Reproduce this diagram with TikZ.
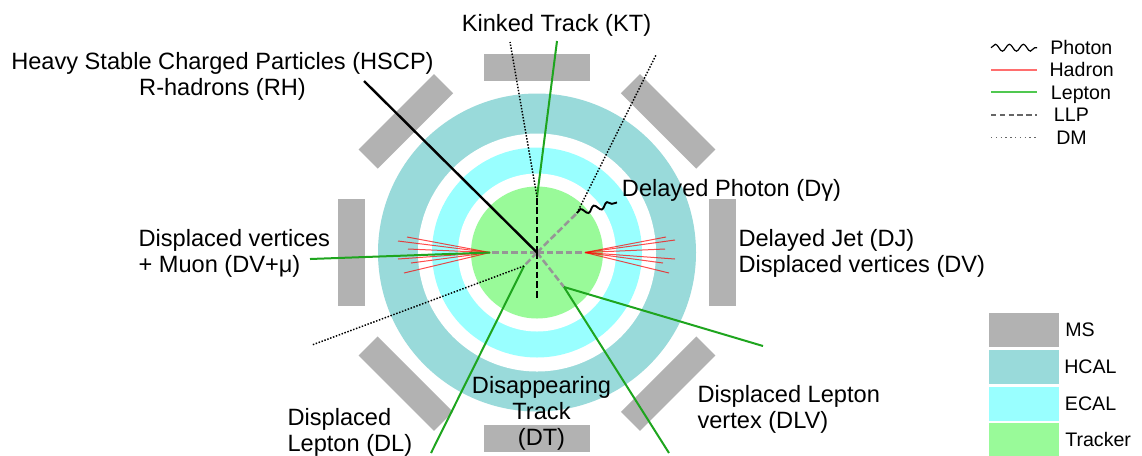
\documentclass[tikz,border=0pt]{standalone}
\usepackage{fontspec}
\setmainfont{Liberation Sans}
\usetikzlibrary{decorations.pathmorphing}
\definecolor{hcal}{RGB}{153,218,218}
\definecolor{ecal}{RGB}{153,255,255}
\definecolor{trk}{RGB}{153,250,153}
\definecolor{ms}{RGB}{178,178,178}
\definecolor{lep}{RGB}{30,165,30}
\definecolor{llp}{RGB}{150,150,150}
\definecolor{leglep}{RGB}{80,200,80}
\definecolor{leghad}{RGB}{255,110,110}
\newcommand\mlines[2]{\begin{tabular}[t]{@{}#1@{}}#2\end{tabular}}
\begin{document}
\begin{tikzpicture}[x=0.75pt,y=-0.75pt,
  lbl/.style={inner sep=0pt, font=\fontsize{17.7pt}{19.5pt}\selectfont},
  leg/.style={inner sep=0pt, font=\fontsize{14.7pt}{17pt}\selectfont},
  lepton/.style={draw=lep, line width=1.5pt},
  hadron/.style={draw=red, opacity=0.7, line width=0.75pt},
  llpline/.style={draw=llp, line width=1.9pt, dash pattern=on 5pt off 2.2pt},
  chargedllp/.style={draw=black, line width=2.1pt, dash pattern=on 5pt off 2.2pt},
  hscpline/.style={draw=black, line width=1.8pt},
  dmline/.style={draw=black, line width=1.1pt, dash pattern=on 1.1pt off 1.2pt},
  photonline/.style={draw=black, line width=1.4pt, decorate,
    decoration={snake, amplitude=2.2pt, segment length=10.3pt}},
  legbox/.style={inner sep=0pt}
]
\useasboundingbox (0,0) rectangle (1142,455);
\fill[white] (0,0) rectangle (1142,455);

% detector rings
\coordinate (C) at (537,252.5);
\fill[hcal] (C) circle[radius=119.25pt];
\fill[white] (C) circle[radius=89.25pt];
\fill[ecal] (C) circle[radius=78.75pt];
\fill[white] (C) circle[radius=59.25pt];
\fill[trk] (C) circle[radius=49.5pt];

% muon system blocks
\foreach \a in {0,45,...,315}
  \fill[ms, shift={(537,252.5)}, rotate=\a] (172,-53.3) rectangle (199,53.3);

% points
\coordinate (hscpE) at (364,81);
\coordinate (kink) at (537,197);
\coordinate (ktE) at (557,41);
\coordinate (ktDM) at (510,42);
\coordinate (dtE) at (537,298);
\coordinate (phV) at (577,213);
\coordinate (phE) at (617,202.5);
\coordinate (phDM) at (656,55);
\coordinate (djR) at (585,252.5);
\coordinate (djL) at (490,252.5);
\coordinate (muE) at (310,259);
\coordinate (dlV) at (524,266);
\coordinate (dlE) at (431,453);
\coordinate (dlDM) at (312,345);
\coordinate (dlvV) at (564,287);
\coordinate (dlvE1) at (763,346);
\coordinate (dlvE2) at (669,453);

% hadron jets
\foreach \p in {(666,237),(675,240),(665,249),(675,259),(663,263),(669,273)}
  \draw[hadron] (djR) -- \p;
\foreach \p in {(407,237),(398,241),(408,249),(398,259),(411,263),(404,273)}
  \draw[hadron] (djL) -- \p;

% LLPs (neutral)
\draw[llpline] (C) -- (djR);
\draw[llpline] (C) -- (djL);
\draw[llpline] (C) -- (phV);
\draw[llpline] (C) -- (dlV);
\draw[llpline] (C) -- (dlvV);

% charged LLPs
\draw[chargedllp] (C) -- (kink);
\draw[chargedllp] (C) -- (dtE);
\draw[hscpline] (C) -- (hscpE);

% leptons
\draw[lepton] (kink) -- (ktE);
\draw[lepton] (djL) -- (muE);
\draw[lepton] (dlV) -- (dlE);
\draw[lepton] (dlvV) -- (dlvE1);
\draw[lepton] (dlvV) -- (dlvE2);

% dark matter
\draw[dmline] (kink) -- (ktDM);
\draw[dmline] (phV) -- (phDM);
\draw[dmline] (dlV) -- (dlDM);

% photon
\draw[photonline] (phV) -- (phE);

% labels
\node[lbl, anchor=base] (hscp) at (222.5,69.5) {\mlines{c}{Heavy Stable Charged Particles (HSCP)\\R-hadrons (RH)}};
\node[lbl, anchor=base] (kt) at (556.5,31) {Kinked Track (KT)};
\node[lbl, anchor=base west] (dg) at (621.7,196) {Delayed Photon (Dγ)};
\node[lbl, anchor=base west] (dj) at (738.3,246) {\mlines{l}{Delayed Jet (DJ)\\Displaced vertices (DV)}};
\node[lbl, anchor=base west] (dvmu) at (138.3,246) {\mlines{l}{Displaced vertices\\+ Muon (DV+μ)}};
\node[lbl, anchor=base west] (dlv) at (697.3,402.7) {\mlines{l}{Displaced Lepton\\vertex (DLV)}};
\node[lbl, anchor=base] (dt) at (541.5,393.3) {\mlines{c}{Disappearing\\Track\\(DT)}};
\node[lbl, anchor=base west] (dl) at (287.3,425) {\mlines{l}{Displaced\\Lepton (DL)}};

% legend: particles
\coordinate (l1a) at (991,47.7);  \coordinate (l1b) at (1037,47.7);
\coordinate (l2a) at (991,70);    \coordinate (l2b) at (1037,70);
\coordinate (l3a) at (991,92.3);  \coordinate (l3b) at (1037,92.3);
\coordinate (l4a) at (991,115);   \coordinate (l4b) at (1037,115);
\coordinate (l5a) at (991,137.7); \coordinate (l5b) at (1037,137.7);
\draw[black, line width=0.9pt, decorate, decoration={snake, amplitude=2.6pt, segment length=10.5pt}] (l1a) -- (l1b);
\draw[leghad, line width=1.1pt] (l2a) -- (l2b);
\draw[leglep, line width=1.3pt] (l3a) -- (l3b);
\draw[black!60, line width=1pt, dash pattern=on 4pt off 2.6pt] (l4a) -- (l4b);
\draw[black!60, line width=1pt, dash pattern=on 1pt off 2.6pt] (l5a) -- (l5b);
\node[leg, anchor=base west] (lph) at (1050,54.3) {Photon};
\node[leg, anchor=base west] (lhad) at (1049.3,76.7) {Hadron};
\node[leg, anchor=base west] (llep) at (1050.7,99.3) {Lepton};
\node[leg, anchor=base west] (lllp) at (1053.7,121.7) {LLP};
\node[leg, anchor=base west] (ldm) at (1056,144) {DM};

% legend: detectors
\fill[ms] (989.3,312.7) rectangle (1059,347.3);
\fill[hcal] (989.3,350) rectangle (1059,384);
\fill[ecal] (989.3,386.7) rectangle (1059,420.7);
\fill[trk] (989.3,423.3) rectangle (1059,457.3);
\node[leg, anchor=base west] (lms) at (1065,336) {MS};
\node[leg, anchor=base west] (lhcal) at (1064,373.3) {HCAL};
\node[leg, anchor=base west] (lecal) at (1064.7,410) {ECAL};
\node[leg, anchor=base west] (ltrk) at (1065,446.7) {Tracker};
\end{tikzpicture}
\end{document}
